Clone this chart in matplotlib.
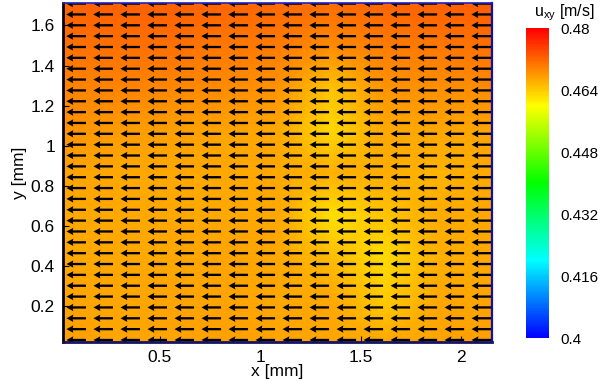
import numpy as np
import matplotlib
matplotlib.use("Agg")
import matplotlib.pyplot as plt
from matplotlib.colors import LinearSegmentedColormap
from matplotlib.ticker import FormatStrFormatter

plt.rcParams['font.family'] = ['Liberation Sans', 'DejaVu Sans']

# velocity magnitude field (coarse grid), rows bottom -> top
field_x = np.linspace(0.02, 2.15, 9)
field_y = np.linspace(0.02, 1.71, 9)
field_speed = [
    [0.4672, 0.4670, 0.4670, 0.4672, 0.4670, 0.4670, 0.4668, 0.4670, 0.4672],
    [0.4670, 0.4668, 0.4670, 0.4670, 0.4668, 0.4666, 0.4640, 0.4668, 0.4670],
    [0.4668, 0.4666, 0.4668, 0.4670, 0.4668, 0.4652, 0.4625, 0.4662, 0.4668],
    [0.4668, 0.4666, 0.4666, 0.4668, 0.4666, 0.4622, 0.4645, 0.4664, 0.4668],
    [0.4670, 0.4666, 0.4666, 0.4668, 0.4668, 0.4662, 0.4664, 0.4658, 0.4666],
    [0.4682, 0.4678, 0.4674, 0.4670, 0.4666, 0.4630, 0.4666, 0.4668, 0.4670],
    [0.4696, 0.4694, 0.4692, 0.4688, 0.4682, 0.4645, 0.4682, 0.4686, 0.4688],
    [0.4712, 0.4712, 0.4710, 0.4706, 0.4702, 0.4690, 0.4702, 0.4706, 0.4710],
    [0.4721, 0.4723, 0.4723, 0.4721, 0.4718, 0.4715, 0.4720, 0.4723, 0.4726],
]

# vector grid (16 columns x 32 rows), u speed per row bottom -> top, flow goes to -x
vec_x = np.linspace(0.132, 2.148, 16)
vec_y = np.linspace(0.031, 1.709, 32)
row_u = [0.4670, 0.4670, 0.4669, 0.4668, 0.4667, 0.4666, 0.4666, 0.4667,
         0.4666, 0.4665, 0.4665, 0.4666, 0.4666, 0.4667, 0.4667, 0.4668,
         0.4670, 0.4672, 0.4674, 0.4676, 0.4679, 0.4682, 0.4685, 0.4689,
         0.4693, 0.4698, 0.4704, 0.4710, 0.4716, 0.4721, 0.4725, 0.4728]

vmin, vmax = 0.4, 0.48
cbar_ticks = [0.4, 0.416, 0.432, 0.448, 0.464, 0.48]

cmap = LinearSegmentedColormap.from_list(
    'rainbow5', ['#0000ff', '#00ffff', '#00ff00', '#ffff00', '#ff0000'])

fig = plt.figure(figsize=(6.04, 3.85), dpi=100)
ax = fig.add_axes([0.1048, 0.1117, 0.709, 0.880])

mesh = ax.pcolormesh(field_x, field_y, np.array(field_speed), shading='gouraud',
                     cmap=cmap, vmin=vmin, vmax=vmax)

X, Y = np.meshgrid(vec_x, vec_y)
U = -np.repeat(np.array(row_u)[:, None], len(vec_x), axis=1)
V = np.zeros_like(U)
ax.quiver(X, Y, U, V, pivot='tail', angles='xy', scale_units='x', scale=4.8,
          units='dots', width=2.3, headwidth=3.2, headlength=3.0,
          headaxislength=2.7, color='black')

ax.set_xlim(0.019, 2.150)
ax.set_ylim(0.021, 1.711)
ax.set_xticks([0.5, 1, 1.5, 2])
ax.set_yticks([0.2, 0.4, 0.6, 0.8, 1, 1.2, 1.4, 1.6])
ax.xaxis.set_major_formatter(FormatStrFormatter('%g'))
ax.yaxis.set_major_formatter(FormatStrFormatter('%g'))
ax.tick_params(direction='in', length=4, width=0.8, labelsize=12.5)
ax.tick_params(axis='x', pad=6)
ax.tick_params(axis='y', pad=6)
ax.set_xlabel('x [mm]', fontsize=12.5, labelpad=-1)
ax.set_ylabel('y [mm]', fontsize=12.5, labelpad=3)

ax.spines['left'].set_color('black')
ax.spines['left'].set_linewidth(2.0)
ax.spines['bottom'].set_color('#141466')
ax.spines['bottom'].set_linewidth(2.0)
ax.spines['top'].set_color('#2020c8')
ax.spines['top'].set_linewidth(1.2)
ax.spines['right'].set_color('#1010b0')
ax.spines['right'].set_linewidth(1.6)

# colorbar
cax = fig.add_axes([0.871, 0.122, 0.038, 0.805])
cb = fig.colorbar(mesh, cax=cax, ticks=cbar_ticks)
cb.outline.set_visible(False)
cb.ax.tick_params(length=0, labelsize=11, pad=8)
cb.ax.yaxis.set_major_formatter(FormatStrFormatter('%g'))
fig.text(0.935, 0.957, r'u$_{\mathregular{xy}}$ [m/s]', fontsize=11.5, ha='center', va='baseline')

fig.savefig('out.png', dpi=100)
